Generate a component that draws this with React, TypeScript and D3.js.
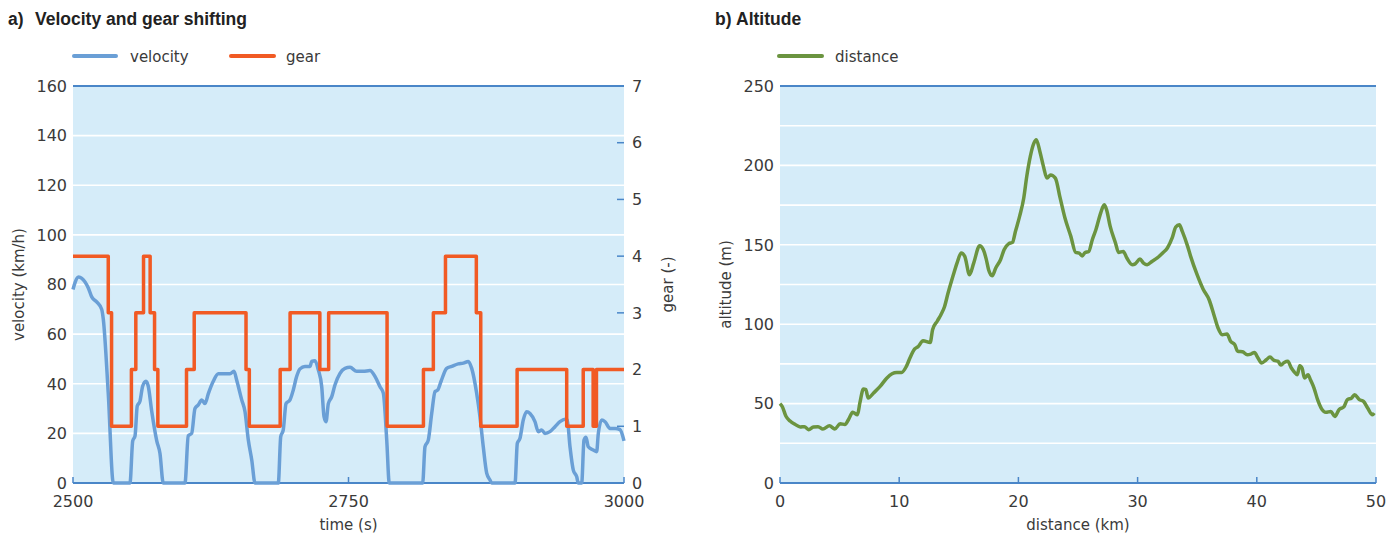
import React from 'react';
import * as d3 from 'd3';

// velocity trace, [time s, km/h]
const VELOCITY: [number, number][] = [
  [2500, 78], [2502, 81], [2505, 83], [2508, 82.5], [2514, 78.5], [2517, 75], [2521.5, 73], [2526, 70], [2527.5, 66],
  [2532, 36], [2536.6, 0], [2551.7, 0], [2554.2, 17], [2556.3, 19], [2558.3, 31], [2560.8, 33], [2563.2, 39],
  [2566.2, 41], [2568.3, 39], [2571.4, 29], [2576, 17], [2578.9, 12], [2581.9, 0], [2601.6, 0], [2604.6, 19],
  [2607.7, 20], [2610.7, 30], [2613.7, 31.5], [2616.8, 33.5], [2619.8, 32], [2622.8, 36], [2627.3, 41], [2631.9, 44],
  [2636.4, 44], [2642.5, 44], [2646.1, 45], [2648.5, 41.5], [2653.1, 33.5], [2656.1, 28.7], [2659.1, 17.3],
  [2662.2, 9.3], [2665.2, 0], [2686.3, 0], [2688.5, 18.7], [2690.8, 21.4], [2693.3, 32], [2696.9, 33.5],
  [2699.9, 37.5], [2703, 43], [2706, 46], [2710.5, 47], [2715.1, 47], [2716.6, 49], [2719.6, 49.3], [2722.6, 45.6],
  [2725.7, 38.8], [2727.8, 26.7], [2729.6, 24.7], [2731.7, 32], [2734.8, 34.8], [2737.7, 39.5], [2742.3, 44.2],
  [2746.8, 46.2], [2751.4, 46.6], [2757.4, 45], [2763.4, 45], [2769.5, 45.3], [2774, 43], [2778.6, 38.8],
  [2781.6, 36.2], [2784.7, 17.3], [2787, 0], [2817.3, 0], [2819.4, 14.6], [2822.4, 17.3], [2825.5, 28],
  [2828.5, 36.8], [2831, 37.5], [2834, 41], [2839.1, 46.2], [2843.6, 47], [2849.6, 48], [2854.2, 48.3],
  [2858.7, 49], [2861.8, 46.2], [2866.3, 36.2], [2869.3, 26.7], [2872.3, 14.6], [2875.4, 4], [2878.4, 1.2],
  [2879.9, 0], [2901.1, 0], [2903.2, 16], [2905.6, 18], [2908.6, 25.4], [2911.7, 28.7], [2914.7, 28], [2919.2, 24.7],
  [2922.2, 20.7], [2925.3, 21.4], [2928.3, 20], [2932.8, 20.7], [2937.4, 22.7], [2941.9, 24.7], [2946.5, 25.7],
  [2948.5, 25.4], [2951, 14.6], [2954, 5.2], [2957.1, 2.5], [2958.5, 0], [2961.6, 0], [2963.7, 17.3],
  [2965.5, 18.4], [2967.6, 14.6], [2972.1, 13.3], [2975.2, 12.6], [2976.7, 20], [2979.8, 25.4], [2982.8, 24.7],
  [2987.3, 22], [2992, 22], [2996.4, 21.5], [3000, 17],
];

// gear changes, [time s, gear]
const GEAR: [number, number][] = [
  [2500, 4], [2532, 3], [2535, 1], [2553, 2], [2557, 3], [2564, 4], [2570, 3], [2574, 2], [2577, 1],
  [2603, 2], [2610, 3], [2657, 2], [2660, 1], [2688, 2], [2697, 3], [2724, 2], [2732, 3], [2785, 1],
  [2818, 2], [2827, 3], [2838, 4], [2866, 3], [2870, 1], [2903, 2], [2948, 1], [2963, 2], [2972, 1],
  [2975, 2], [3000, 2],
];

// altitude profile, [distance km, altitude m]
const ALTITUDE: [number, number][] = [
  [0, 50], [0.2, 48], [0.5, 42], [0.85, 39], [1.25, 37], [1.7, 35.3], [2.05, 35.5], [2.4, 33.6], [2.8, 35.3],
  [3.2, 35.5], [3.6, 34], [4.15, 36], [4.6, 34], [5.05, 37.3], [5.45, 36.8], [5.75, 40], [6.1, 44.5], [6.5, 43],
  [6.7, 50.4], [7, 59.2], [7.2, 58.8], [7.4, 53.5], [7.85, 56.7], [8.4, 60.8], [8.95, 66], [9.4, 68.8],
  [9.8, 69.6], [10.2, 69.6], [10.6, 73.4], [10.9, 78.7], [11.3, 84.4], [11.6, 86], [12, 89.6], [12.6, 88.5],
  [12.8, 96.5], [13.2, 102], [13.5, 106], [13.8, 111], [14.1, 119.6], [14.5, 130], [14.85, 138.5], [15.2, 144.8],
  [15.5, 142.7], [15.9, 131.2], [16.25, 138.5], [16.75, 149.4], [17.05, 147], [17.3, 141], [17.5, 134.3],
  [17.8, 130.5], [18.1, 135.4], [18.5, 140.6], [18.8, 146.9], [19.2, 150.7], [19.5, 151.5], [19.75, 158.4],
  [20.1, 167.9], [20.45, 179.5], [20.7, 193], [21, 205.7], [21.3, 214], [21.5, 216.2], [21.8, 208.8],
  [22.1, 199.4], [22.4, 192], [22.7, 194], [23.1, 192], [23.5, 179.5], [23.9, 167], [24.4, 155.3], [24.8, 145.2],
  [25.1, 144.8], [25.35, 143], [25.6, 145.2], [25.9, 145.8], [26.2, 153.2], [26.5, 159.5], [26.9, 170],
  [27.2, 175.2], [27.4, 172], [27.7, 161.6], [28.15, 151], [28.4, 145.2], [28.8, 145.8], [29.1, 141.7],
  [29.55, 137.5], [29.8, 138], [30.2, 141], [30.5, 138.5], [30.8, 137.5], [31.2, 139.5], [31.65, 141.7],
  [32.1, 144.8], [32.5, 148], [32.9, 154.3], [33.2, 161.2], [33.5, 162.7], [33.75, 158.4], [34.2, 149],
  [34.45, 142.7], [35, 131], [35.5, 122], [36, 115.4], [36.4, 106], [36.75, 97.6], [37.1, 93.4], [37.5, 93.8],
  [37.8, 89.2], [38.15, 87.1], [38.4, 82.9], [38.8, 82.6], [39.2, 80.8], [39.5, 81.2], [39.8, 82.2], [40.1, 78.7],
  [40.4, 75.6], [40.8, 77.6], [41.1, 79.3], [41.45, 77.2], [41.8, 76.6], [42, 74.3], [42.3, 75.9], [42.6, 76.6],
  [42.9, 72.4], [43.1, 70.3], [43.4, 68.2], [43.6, 73.9], [43.8, 72.3], [44, 66.1], [44.3, 68.2], [44.5, 65],
  [44.8, 59.8], [45.1, 52.5], [45.4, 47.2], [45.8, 44.5], [46.2, 45.1], [46.55, 41.9], [46.9, 46.2], [47.3, 47.9],
  [47.6, 52.5], [47.95, 53.5], [48.2, 55.6], [48.6, 52.5], [48.95, 51.4], [49.3, 47.2], [49.7, 43], [49.85, 44.1],
];

const TIME_TICKS = [2500, 2750, 3000];
const VEL_TICKS = [0, 20, 40, 60, 80, 100, 120, 140, 160];
const GEAR_TICKS = [0, 1, 2, 3, 4, 5, 6, 7];
const DIST_TICKS = [0, 10, 20, 30, 40, 50];
const ALT_TICKS = [0, 50, 100, 150, 200, 250];
const ALT_GRID = [25, 50, 75, 100, 125, 150, 175, 200, 225];

const BG = '#d5ecf9';
const AXIS = '#4a86c8';
const C_VEL = '#6a9fd6';
const C_GEAR = '#f15a24';
const C_ALT = '#6b9440';
const TXT = '#3a3a3a';
const FONT = "'DejaVu Sans', sans-serif";
const TITLE_FONT = "'Liberation Sans', Arial, sans-serif";

const TOP = 86, BOT = 483;

export default function App() {
  // left panel
  const x1 = d3.scaleLinear().domain([2500, 3000]).range([73, 624]);
  const yV = d3.scaleLinear().domain([0, 160]).range([BOT, TOP]);
  const yG = d3.scaleLinear().domain([0, 7]).range([BOT, TOP]);
  // right panel
  const x2 = d3.scaleLinear().domain([0, 50]).range([780, 1376]);
  const yA = d3.scaleLinear().domain([0, 250]).range([BOT, TOP]);

  const velLine = d3.line<[number, number]>().x(d => x1(d[0])).y(d => yV(d[1])).curve(d3.curveMonotoneX);
  const gearLine = d3.line<[number, number]>().x(d => x1(d[0])).y(d => yG(d[1])).curve(d3.curveStepAfter);
  const altLine = d3.line<[number, number]>().x(d => x2(d[0])).y(d => yA(d[1])).curve(d3.curveMonotoneX);

  return (
    <svg width={1399} height={538} style={{ position: 'absolute', left: 0, top: 0 }} fontFamily={FONT}>
      {/* titles */}
      <text y={25} fontFamily={TITLE_FONT} fontWeight="bold" fontSize={17.5} fill="#222">
        <tspan x={8}>a)</tspan><tspan x={35}>Velocity and gear shifting</tspan>
      </text>
      <text y={25} fontFamily={TITLE_FONT} fontWeight="bold" fontSize={17.5} fill="#222">
        <tspan x={715}>b)</tspan><tspan x={736}>Altitude</tspan>
      </text>

      {/* legends */}
      <line x1={74} x2={116} y1={56} y2={56} stroke={C_VEL} strokeWidth={4} strokeLinecap="round" />
      <text x={130} y={62} fontSize={15} fill={TXT}>velocity</text>
      <line x1={231} x2={274} y1={56} y2={56} stroke={C_GEAR} strokeWidth={4} strokeLinecap="round" />
      <text x={286} y={62} fontSize={15} fill={TXT}>gear</text>
      <line x1={779} x2={822} y1={56} y2={56} stroke={C_ALT} strokeWidth={4} strokeLinecap="round" />
      <text x={835} y={62} fontSize={15} fill={TXT}>distance</text>

      {/* panel a */}
      <rect x={x1(2500)} y={TOP} width={x1(3000) - x1(2500)} height={BOT - TOP} fill={BG} />
      {VEL_TICKS.slice(1, -1).map(v => (
        <line key={v} x1={x1(2500)} x2={x1(3000)} y1={yV(v)} y2={yV(v)} stroke="#fff" strokeWidth={1.6} />
      ))}
      <line x1={x1(2500)} x2={x1(3000)} y1={TOP} y2={TOP} stroke={AXIS} strokeWidth={2} />
      <line x1={x1(2500)} x2={x1(3000)} y1={BOT} y2={BOT} stroke={AXIS} strokeWidth={2} />
      {TIME_TICKS.map(t => (
        <g key={t}>
          <line x1={x1(t)} x2={x1(t)} y1={BOT} y2={BOT - 6} stroke={AXIS} strokeWidth={1.5} />
          <text x={x1(t)} y={507} textAnchor="middle" fontSize={16} fill={TXT}>{t}</text>
        </g>
      ))}
      {GEAR_TICKS.map(g => (
        <g key={g}>
          <line x1={x1(3000) - 7} x2={x1(3000)} y1={yG(g)} y2={yG(g)} stroke={AXIS} strokeWidth={1.5} />
          <text x={632} y={yG(g)} dy="0.36em" fontSize={16} fill={TXT}>{g}</text>
        </g>
      ))}
      {VEL_TICKS.map(v => (
        <text key={v} x={67} y={yV(v)} dy="0.36em" textAnchor="end" fontSize={16} fill={TXT}>{v}</text>
      ))}
      <path d={velLine(VELOCITY) || ''} fill="none" stroke={C_VEL} strokeWidth={3.5} strokeLinejoin="round" />
      <path d={gearLine(GEAR) || ''} fill="none" stroke={C_GEAR} strokeWidth={3.5} strokeLinejoin="round" />
      <text transform={`translate(24,${(TOP + BOT) / 2}) rotate(-90)`} textAnchor="middle" fontSize={15} fill={TXT}>velocity (km/h)</text>
      <text transform={`translate(673,${(TOP + BOT) / 2}) rotate(-90)`} textAnchor="middle" fontSize={15} fill={TXT}>gear (-)</text>
      <text x={(x1(2500) + x1(3000)) / 2} y={530} textAnchor="middle" fontSize={15} fill={TXT}>time (s)</text>

      {/* panel b */}
      <rect x={x2(0)} y={TOP} width={x2(50) - x2(0)} height={BOT - TOP} fill={BG} />
      {ALT_GRID.map(v => (
        <line key={v} x1={x2(0)} x2={x2(50)} y1={yA(v)} y2={yA(v)} stroke="#fff" strokeWidth={1.6} />
      ))}
      <line x1={x2(0)} x2={x2(50)} y1={TOP} y2={TOP} stroke={AXIS} strokeWidth={2} />
      <line x1={x2(0)} x2={x2(50)} y1={BOT} y2={BOT} stroke={AXIS} strokeWidth={2} />
      {DIST_TICKS.map(d => (
        <g key={d}>
          <line x1={x2(d)} x2={x2(d)} y1={BOT} y2={BOT - 6} stroke={AXIS} strokeWidth={1.5} />
          <text x={x2(d)} y={507} textAnchor="middle" fontSize={16} fill={TXT}>{d}</text>
        </g>
      ))}
      {ALT_TICKS.map(v => (
        <text key={v} x={774} y={yA(v)} dy="0.36em" textAnchor="end" fontSize={16} fill={TXT}>{v}</text>
      ))}
      <path d={altLine(ALTITUDE) || ''} fill="none" stroke={C_ALT} strokeWidth={3.5} strokeLinejoin="round" />
      <text transform={`translate(731,${(TOP + BOT) / 2}) rotate(-90)`} textAnchor="middle" fontSize={15} fill={TXT}>altitude (m)</text>
      <text x={(x2(0) + x2(50)) / 2} y={530} textAnchor="middle" fontSize={15} fill={TXT}>distance (km)</text>
    </svg>
  );
}
